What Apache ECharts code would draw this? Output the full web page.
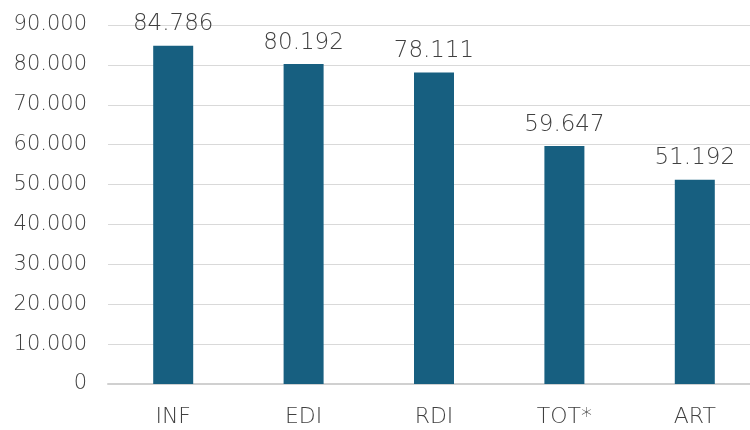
<!DOCTYPE html>
<html>
<head>
<meta charset="utf-8">
<script src="https://cdn.jsdelivr.net/npm/echarts@6/dist/echarts.min.js"></script>
<style>
  html, body { margin: 0; padding: 0; background: #fff; overflow: hidden; }
  #main { width: 760px; height: 430px; }
</style>
</head>
<body>
<div id="main"></div>
<script>
var categories = ['INF', 'EDI', 'RDI', 'TOT*', 'ART'];
var values = [84786, 80192, 78111, 59647, 51192];

function fmt(v) {
    return String(v).replace(/\B(?=(\d{3})+(?!\d))/g, '.');
}

var myChart = echarts.init(document.getElementById('main'));
var option = {
    animation: false,
    grid: {
        left: 108,
        right: 0,
        top: 25,
        bottom: 46
    },
    xAxis: {
        type: 'category',
        data: categories,
        axisTick: { show: false },
        axisLine: { lineStyle: { color: '#d0d0d0', width: 2 } },
        axisLabel: {
            color: '#404040',
            fontFamily: 'DejaVu Sans',
            fontWeight: 200,
            fontSize: 22,
            margin: 22
        }
    },
    yAxis: {
        type: 'value',
        min: 0,
        max: 90000,
        interval: 10000,
        axisLabel: {
            color: '#404040',
            fontFamily: 'DejaVu Sans',
            fontWeight: 200,
            fontSize: 21,
            margin: 21,
            formatter: fmt
        },
        splitLine: { lineStyle: { color: '#d9d9d9', width: 1 } }
    },
    series: [{
        type: 'bar',
        data: values,
        barWidth: 40,
        itemStyle: { color: '#175f80' },
        label: {
            show: true,
            position: 'top',
            distance: 10,
            color: '#404040',
            fontFamily: 'DejaVu Sans',
            fontWeight: 200,
            fontSize: 23,
            formatter: function (p) { return fmt(p.value); }
        }
    }]
};
myChart.setOption(option);
</script>
</body>
</html>
